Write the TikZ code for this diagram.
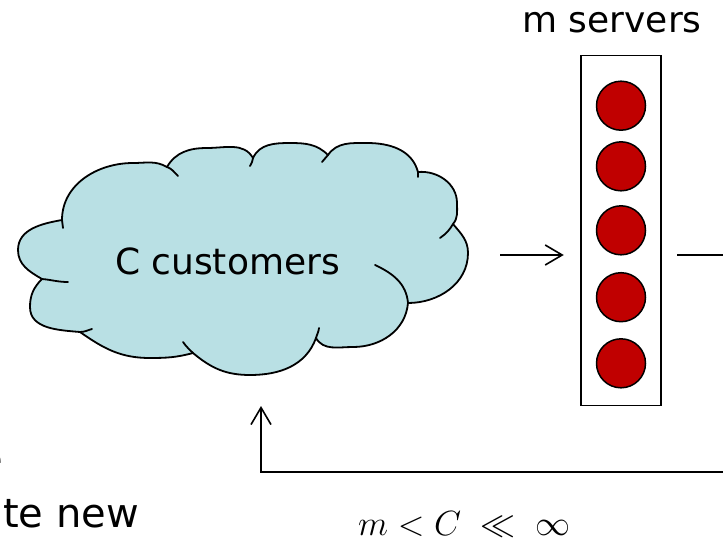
\RequirePackage{fix-cm}
\documentclass[tikz,border=0pt]{standalone}
\usepackage{fontspec}
\setmainfont{DejaVu Sans}
\usetikzlibrary{arrows.meta}
\definecolor{cloudfill}{RGB}{185,224,228}
\definecolor{srvred}{RGB}{192,0,0}
\begin{document}
\begin{tikzpicture}[x=1pt,y=-1pt,
  arr/.style={line width=1.6pt,-{Straight Barb[length=17pt,width=20pt,line width=1.6pt]}},
  plain/.style={line width=1.6pt},
  cloudline/.style={line width=1.8pt,line join=round,line cap=round},
  srv/.style={circle,draw=black,fill=srvred,line width=1.5pt,minimum size=49pt,inner sep=0pt},
  bigtxt/.style={inner sep=0pt,font=\fontsize{36}{43}\selectfont},
  sidetxt/.style={inner sep=0pt,font=\fontsize{40}{48}\selectfont},
  mathtxt/.style={inner sep=0pt,font=\fontsize{35}{42}\selectfont}]
\useasboundingbox (0,0) rectangle (723,538);
% cloud outline
\path[draw,fill=cloudfill,cloudline]
 (62,220) to[out=90,in=180] (133,163) to[out=0,in=150] (167,167)
 to[out=60,in=180] (207,148) to[out=0,in=120] (253,158)
 to[out=65,in=180] (290,143) to[out=0,in=135] (328,155)
 to[out=55,in=180] (367,143) to[out=0,in=105] (418,172)
 to[out=5,in=90] (457,203) to[out=270,in=50] (453,224)
 to[out=-50,in=90] (468,253) to[out=270,in=0] (408,303)
 to[out=265,in=0] (353,347) to[out=180,in=300] (316,338)
 to[out=250,in=0] (250,375) to[out=180,in=320] (193,353)
 to[out=195,in=0] (150,358) to[out=180,in=325] (80,332)
 to[out=175,in=270] (30,307) to[out=90,in=225] (42,279)
 to[out=150,in=270] (18,250) to[out=90,in=190] (62,220)
 -- cycle;
% inner ticks of the cloud
\draw[cloudline] (62,220) to[out=270,in=95] (63,228);
\draw[cloudline] (167,167) to[out=-20,in=135] (178,176);
\draw[cloudline] (253,158) to[out=-80,in=75] (250,166);
\draw[cloudline] (328,155) to[out=-125,in=55] (322,162);
\draw[cloudline] (418,172) -- (418,177);
\draw[cloudline] (453,224) to[out=-120,in=35] (440,238);
\draw[cloudline] (408,303) to[out=95,in=-25] (375,265);
\draw[cloudline] (316,338) to[out=75,in=265] (319,328);
\draw[cloudline] (193,353) to[out=135,in=-55] (183,342);
\draw[cloudline] (80,332) to[out=0,in=195] (92,329);
\draw[cloudline] (42,279) to[out=-5,in=180] (68,282);
\node[bigtxt,anchor=base] (cust) at (227.5,274) {C customers};
% servers
\node[draw=black,line width=1.5pt,minimum width=80pt,minimum height=350pt,inner sep=0pt] (servers) at (621,230.7) {};
\node[srv] (s1) at (621,105.7) {};
\node[srv] (s2) at (621,166.3) {};
\node[srv] (s3) at (621,230.3) {};
\node[srv] (s4) at (621,297.2) {};
\node[srv] (s5) at (621,363.3) {};
\node[bigtxt,anchor=base] (lbl) at (612,32) {m servers};
% connectors
\coordinate (inA) at (500,255);
\draw[arr,shorten >=16.5pt] (inA) -- (inA -| servers.west);
\coordinate (outS) at (677,255);
\coordinate (outE) at (725,255);
\draw[plain] (outS) -- (outE);
\coordinate (fbR) at (725,472);
\coordinate (fbT) at (261,406);
\draw[arr] (fbR) -| (fbT);
% texts
\node[mathtxt,anchor=base west] (cond) at (358,535) {$m < C \;\ll\; \infty$};
\node[sidetxt,anchor=base east] (side1) at (3.5,473) {e};
\node[sidetxt,anchor=base east] (side2) at (139,527) {te new};
\end{tikzpicture}
\end{document}
